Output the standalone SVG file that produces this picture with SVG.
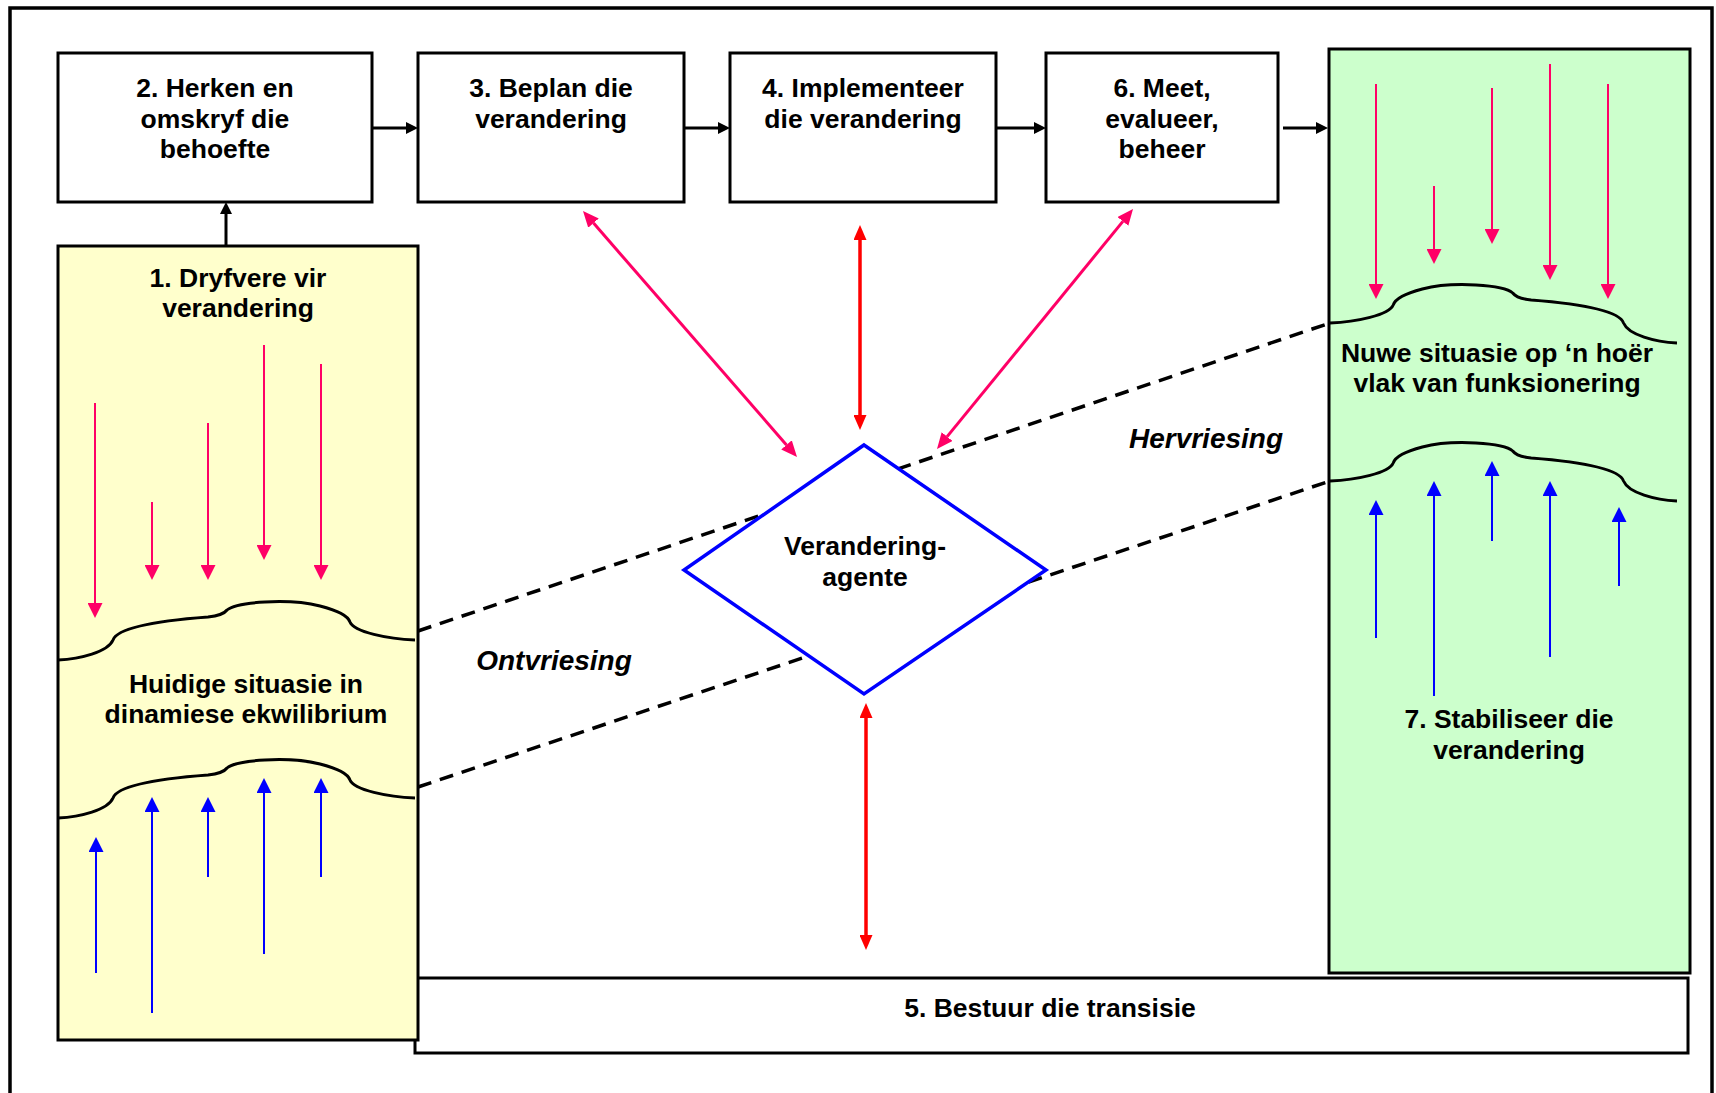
<svg xmlns="http://www.w3.org/2000/svg" xmlns:xlink="http://www.w3.org/1999/xlink" width="1716" height="1093" viewBox="0 0 1716 1093">
  <style>
    .t{font-family:"Liberation Sans",Arial,Helvetica,sans-serif;font-weight:bold;font-size:26.5px;text-anchor:middle;fill:#000}
    .it{font-style:italic;font-size:28px}
    .box{fill:#fff;stroke:#000;stroke-width:3}
    .flow{stroke:#000;stroke-width:3;fill:none}
    .wave{fill:none;stroke:#000;stroke-width:3}
    .push{stroke:#ff0066;stroke-width:2;fill:none}
    .hold{stroke:#0000ff;stroke-width:2;fill:none}
    .link{stroke:#ff0066;stroke-width:3;fill:none}
    .red{stroke:#ff0000;stroke-width:3.5;fill:none}
    .dash{stroke:#000;stroke-width:3.5;stroke-dasharray:14 9;fill:none}
  </style>
  <defs>
    <marker id="hBlack" markerUnits="userSpaceOnUse" markerWidth="12" markerHeight="12" refX="0" refY="6" orient="auto">
      <path d="M0,0 L12,6 L0,12 z" fill="#000"/>
    </marker>
    <marker id="hPink" markerUnits="userSpaceOnUse" markerWidth="15" markerHeight="15" refX="0" refY="7.5" orient="auto">
      <path d="M0,0 L15,7.5 L0,15 z" fill="#ff0066"/>
    </marker>
    <marker id="hBlue" markerUnits="userSpaceOnUse" markerWidth="15" markerHeight="15" refX="0" refY="7.5" orient="auto">
      <path d="M0,0 L15,7.5 L0,15 z" fill="#0000ff"/>
    </marker>
    <marker id="hLink" markerUnits="userSpaceOnUse" markerWidth="16" markerHeight="14" refX="0" refY="7" orient="auto-start-reverse">
      <path d="M0,0 L16,7 L0,14 z" fill="#ff0066"/>
    </marker>
    <marker id="hRed" markerUnits="userSpaceOnUse" markerWidth="15" markerHeight="13" refX="0" refY="6.5" orient="auto-start-reverse">
      <path d="M0,0 L15,6.5 L0,13 z" fill="#ff0000"/>
    </marker>
    <path id="wave" d="M0,0 C22,-1 50,-8 55,-20 C60,-34 110,-40 150,-43 C160,-44 166,-46 169,-50 C178,-58 230,-62 262,-54 C282,-49 290,-44 292,-38 C296,-28 330,-21 357,-20"/>
  </defs>

  <rect width="1716" height="1093" fill="#fff"/>
  <!-- outer frame -->
  <rect x="10" y="8" width="1702" height="1100" fill="none" stroke="#000" stroke-width="3.5"/>

  <!-- 5: manage the transition -->
  <g id="node-5">
    <rect class="box" x="415" y="978" width="1273" height="75"/>
    <text class="t" x="1050" y="1017">5. Bestuur die transisie</text>
  </g>

  <!-- 1: drivers for change / current situation -->
  <g id="node-1">
    <rect x="58" y="246" width="360" height="794" fill="#ffffcc" stroke="#000" stroke-width="3"/>
    <text class="t" x="238" y="287">1. Dryfvere vir</text>
    <text class="t" x="238" y="317">verandering</text>
    <line class="push" x1="95" y1="403" x2="95" y2="603" marker-end="url(#hPink)"/>
    <line class="push" x1="152" y1="502" x2="152" y2="565" marker-end="url(#hPink)"/>
    <line class="push" x1="208" y1="423" x2="208" y2="565" marker-end="url(#hPink)"/>
    <line class="push" x1="264" y1="345" x2="264" y2="545" marker-end="url(#hPink)"/>
    <line class="push" x1="321" y1="364" x2="321" y2="565" marker-end="url(#hPink)"/>
    <use xlink:href="#wave" class="wave" transform="translate(58,660)"/>
    <text class="t" x="246" y="693">Huidige situasie in</text>
    <text class="t" x="246" y="723">dinamiese ekwilibrium</text>
    <use xlink:href="#wave" class="wave" transform="translate(58,818)"/>
    <line class="hold" x1="96" y1="973" x2="96" y2="852" marker-end="url(#hBlue)"/>
    <line class="hold" x1="152" y1="1013" x2="152" y2="812" marker-end="url(#hBlue)"/>
    <line class="hold" x1="208" y1="877" x2="208" y2="812" marker-end="url(#hBlue)"/>
    <line class="hold" x1="264" y1="954" x2="264" y2="793" marker-end="url(#hBlue)"/>
    <line class="hold" x1="321" y1="877" x2="321" y2="793" marker-end="url(#hBlue)"/>
  </g>

  <!-- 7: new situation, stabilise -->
  <g id="node-7">
    <rect x="1329" y="49" width="361" height="924" fill="#ccffcc" stroke="#000" stroke-width="3"/>
    <line class="push" x1="1376" y1="84" x2="1376" y2="284" marker-end="url(#hPink)"/>
    <line class="push" x1="1434" y1="186" x2="1434" y2="249" marker-end="url(#hPink)"/>
    <line class="push" x1="1492" y1="88" x2="1492" y2="229" marker-end="url(#hPink)"/>
    <line class="push" x1="1550" y1="64" x2="1550" y2="265" marker-end="url(#hPink)"/>
    <line class="push" x1="1608" y1="84" x2="1608" y2="284" marker-end="url(#hPink)"/>
    <use xlink:href="#wave" class="wave" transform="translate(1677,343) scale(-0.972,1)"/>
    <text class="t" x="1497" y="362">Nuwe situasie op ‘n hoër</text>
    <text class="t" x="1497" y="392">vlak van funksionering</text>
    <use xlink:href="#wave" class="wave" transform="translate(1677,501) scale(-0.972,1)"/>
    <line class="hold" x1="1376" y1="638" x2="1376" y2="515" marker-end="url(#hBlue)"/>
    <line class="hold" x1="1434" y1="696" x2="1434" y2="496" marker-end="url(#hBlue)"/>
    <line class="hold" x1="1492" y1="541" x2="1492" y2="476" marker-end="url(#hBlue)"/>
    <line class="hold" x1="1550" y1="657" x2="1550" y2="496" marker-end="url(#hBlue)"/>
    <line class="hold" x1="1619" y1="586" x2="1619" y2="522" marker-end="url(#hBlue)"/>
    <text class="t" x="1509" y="728">7. Stabiliseer die</text>
    <text class="t" x="1509" y="759">verandering</text>
  </g>

  <!-- process steps -->
  <g id="node-2">
    <rect class="box" x="58" y="53" width="314" height="149"/>
    <text class="t" x="215" y="97">2. Herken en</text>
    <text class="t" x="215" y="127.5">omskryf die</text>
    <text class="t" x="215" y="158">behoefte</text>
  </g>
  <g id="node-3">
    <rect class="box" x="418" y="53" width="266" height="149"/>
    <text class="t" x="551" y="97">3. Beplan die</text>
    <text class="t" x="551" y="127.5">verandering</text>
  </g>
  <g id="node-4">
    <rect class="box" x="730" y="53" width="266" height="149"/>
    <text class="t" x="863" y="97">4. Implementeer</text>
    <text class="t" x="863" y="127.5">die verandering</text>
  </g>
  <g id="node-6">
    <rect class="box" x="1046" y="53" width="232" height="149"/>
    <text class="t" x="1162" y="97">6. Meet,</text>
    <text class="t" x="1162" y="127.5">evalueer,</text>
    <text class="t" x="1162" y="158">beheer</text>
  </g>

  <!-- connectors -->
  <g id="connectors">
    <line class="dash" x1="418" y1="631" x2="1330" y2="323"/>
    <line class="dash" x1="418" y1="787" x2="1330" y2="481"/>
    <line class="flow" x1="372" y1="128" x2="406" y2="128" marker-end="url(#hBlack)"/>
    <line class="flow" x1="684" y1="128" x2="718" y2="128" marker-end="url(#hBlack)"/>
    <line class="flow" x1="996" y1="128" x2="1034" y2="128" marker-end="url(#hBlack)"/>
    <line class="flow" x1="1283" y1="128" x2="1316" y2="128" marker-end="url(#hBlack)"/>
    <line class="flow" x1="226" y1="246" x2="226" y2="214" marker-end="url(#hBlack)"/>
    <line class="link" x1="593.5" y1="223.1" x2="786.5" y2="444.9" marker-start="url(#hLink)" marker-end="url(#hLink)"/>
    <line class="link" x1="1122.9" y1="221.4" x2="947.1" y2="436.6" marker-start="url(#hLink)" marker-end="url(#hLink)"/>
    <line class="red" x1="860" y1="240" x2="860" y2="415" marker-start="url(#hRed)" marker-end="url(#hRed)"/>
    <line class="red" x1="866" y1="718" x2="866" y2="935" marker-start="url(#hRed)" marker-end="url(#hRed)"/>
  </g>

  <!-- change agents -->
  <g id="node-agent">
    <polygon points="864,445 1046,570 864,694 684,570" fill="#fff" stroke="#0000ff" stroke-width="3.5"/>
    <text class="t" x="865" y="555">Verandering-</text>
    <text class="t" x="865" y="586">agente</text>
  </g>

  <g id="labels">
    <text class="t it" x="554" y="670">Ontvriesing</text>
    <text class="t it" x="1206" y="448">Hervriesing</text>
  </g>
</svg>
